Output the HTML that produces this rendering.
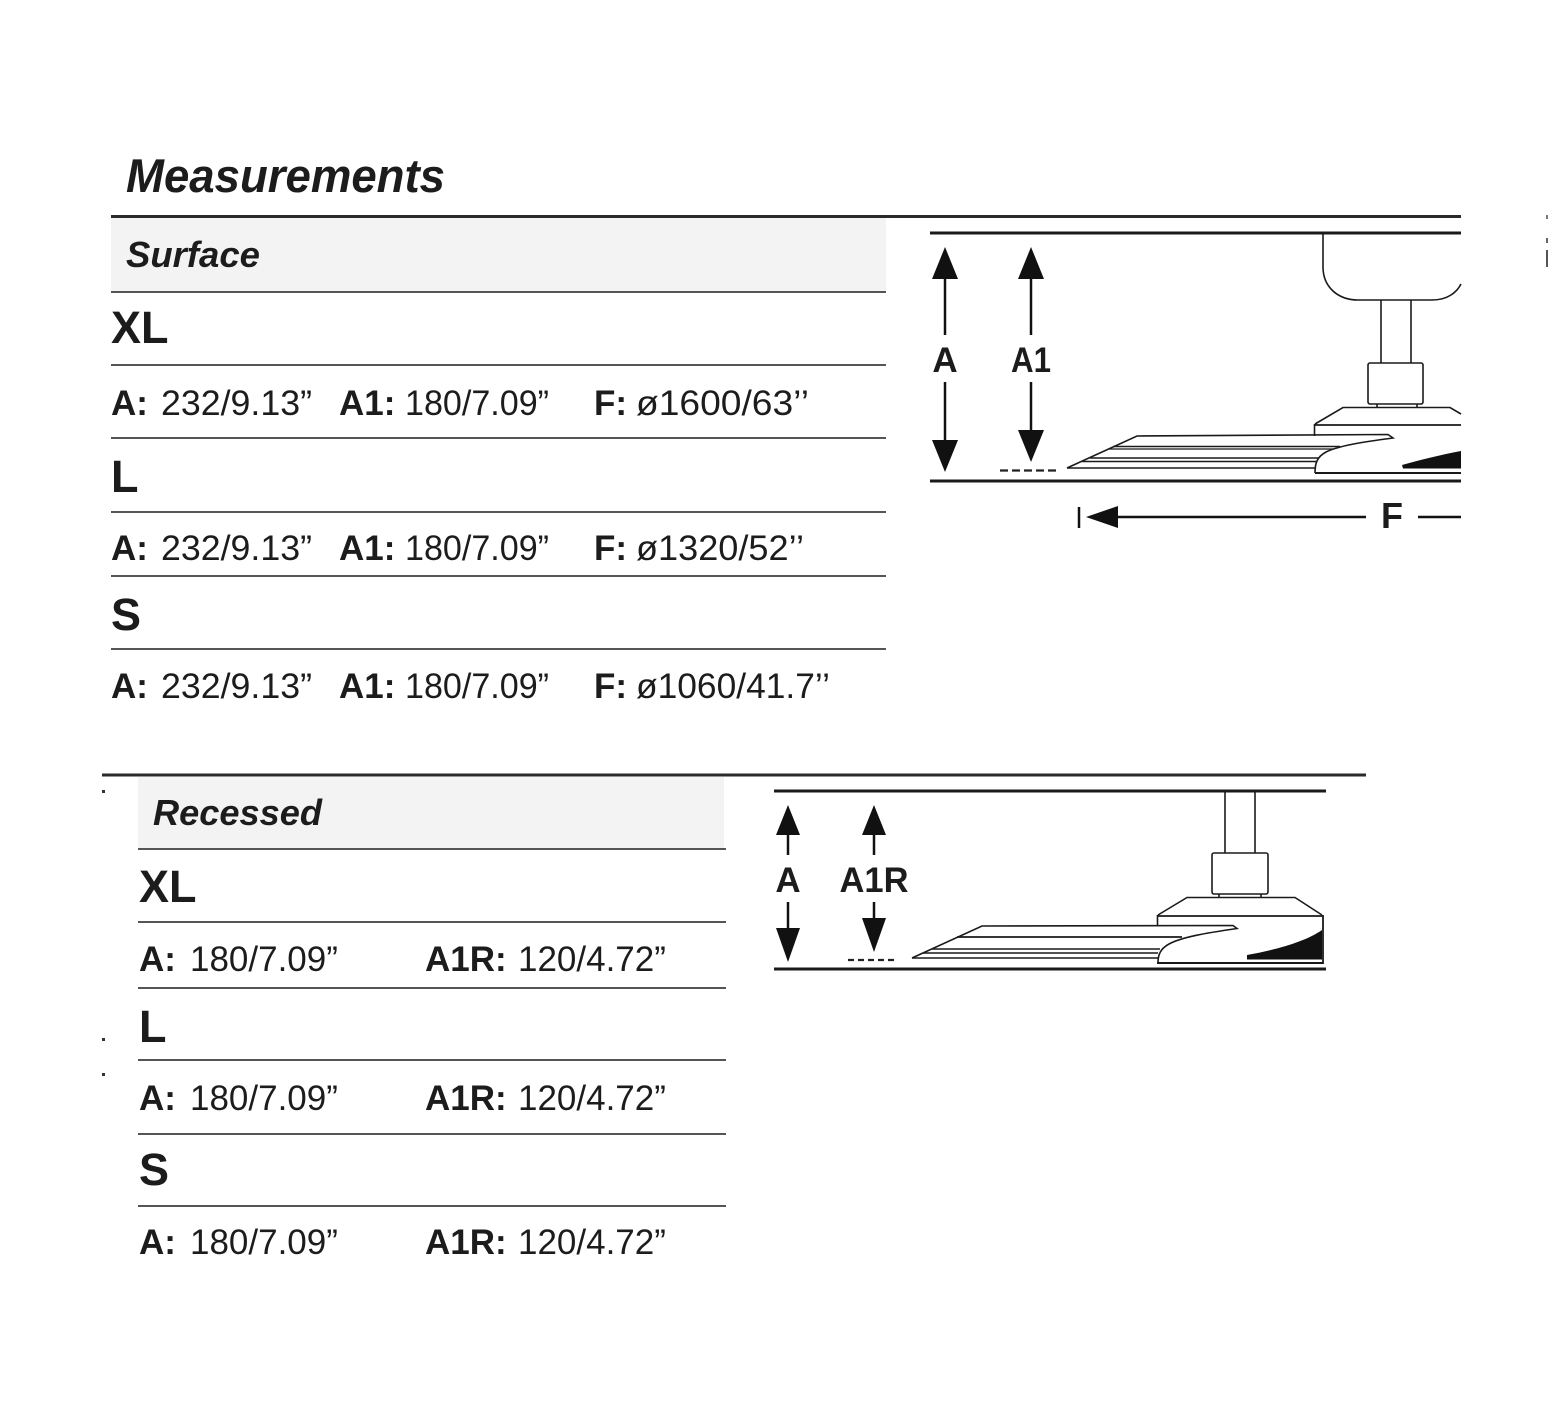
<!DOCTYPE html>
<html>
<head>
<meta charset="utf-8">
<style>
  html, body { margin: 0; padding: 0; background: #ffffff; }
  body { width: 1548px; height: 1410px; overflow: hidden; }
  svg { display: block; }
  text { font-family: "Liberation Sans", Arial, sans-serif; fill: #1c1c1c; }
  .h { font-weight: bold; font-style: italic; }
  .b { font-weight: bold; }
  .v { font-size: 35px; }
  .sz { font-size: 45px; font-weight: bold; }
</style>
</head>
<body>
<svg width="1548" height="1410" viewBox="0 0 1548 1410" xmlns="http://www.w3.org/2000/svg">
  <rect x="0" y="0" width="1548" height="1410" fill="#ffffff"/>

  <!-- ============ TOP SECTION: SURFACE ============ -->
  <text x="126" y="192" class="h" font-size="47" textLength="319" lengthAdjust="spacingAndGlyphs">Measurements</text>

  <rect x="111" y="218" width="775" height="73" fill="#f3f3f3"/>
  <line x1="111" y1="216.5" x2="1461" y2="216.5" stroke="#2a2a2a" stroke-width="3"/>
  <text x="126" y="267" class="h" font-size="36" textLength="134" lengthAdjust="spacingAndGlyphs">Surface</text>

  <g stroke="#555" stroke-width="2">
    <line x1="111" y1="292" x2="886" y2="292"/>
    <line x1="111" y1="365" x2="886" y2="365"/>
    <line x1="111" y1="438" x2="886" y2="438"/>
    <line x1="111" y1="512" x2="886" y2="512"/>
    <line x1="111" y1="576" x2="886" y2="576"/>
    <line x1="111" y1="649" x2="886" y2="649"/>
  </g>

  <text x="111" y="343" class="sz">XL</text>
  <text x="111" y="415" class="v"><tspan class="b">A:</tspan></text>
  <text x="161" y="415" class="v" textLength="151" lengthAdjust="spacingAndGlyphs">232/9.13”</text>
  <text x="339" y="415" class="v"><tspan class="b">A1:</tspan></text>
  <text x="405" y="415" class="v" textLength="144" lengthAdjust="spacingAndGlyphs">180/7.09”</text>
  <text x="594" y="415" class="v"><tspan class="b">F:</tspan></text>
  <text x="636" y="415" class="v" textLength="173" lengthAdjust="spacingAndGlyphs">ø1600/63’’</text>

  <text x="111" y="492" class="sz">L</text>
  <text x="111" y="560" class="v"><tspan class="b">A:</tspan></text>
  <text x="161" y="560" class="v" textLength="151" lengthAdjust="spacingAndGlyphs">232/9.13”</text>
  <text x="339" y="560" class="v"><tspan class="b">A1:</tspan></text>
  <text x="405" y="560" class="v" textLength="144" lengthAdjust="spacingAndGlyphs">180/7.09”</text>
  <text x="594" y="560" class="v"><tspan class="b">F:</tspan></text>
  <text x="636" y="560" class="v" textLength="168" lengthAdjust="spacingAndGlyphs">ø1320/52’’</text>

  <text x="111" y="630" class="sz">S</text>
  <text x="111" y="698" class="v"><tspan class="b">A:</tspan></text>
  <text x="161" y="698" class="v" textLength="151" lengthAdjust="spacingAndGlyphs">232/9.13”</text>
  <text x="339" y="698" class="v"><tspan class="b">A1:</tspan></text>
  <text x="405" y="698" class="v" textLength="144" lengthAdjust="spacingAndGlyphs">180/7.09”</text>
  <text x="594" y="698" class="v"><tspan class="b">F:</tspan></text>
  <text x="636" y="698" class="v" textLength="194" lengthAdjust="spacingAndGlyphs">ø1060/41.7’’</text>

  <!-- Top diagram -->
  <g stroke="#1a1a1a" fill="none">
    <line x1="930" y1="233" x2="1461" y2="233" stroke-width="3"/>
    <line x1="930" y1="481" x2="1461" y2="481" stroke-width="3"/>
    <path d="M1323 233 V267 C1323 287 1338 300 1358 300 H1432 C1448 300 1457 292 1461 284" stroke-width="1.6"/>
    <line x1="1381" y1="300" x2="1381" y2="363" stroke-width="1.6"/>
    <line x1="1411" y1="300" x2="1411" y2="363" stroke-width="1.6"/>
    <rect x="1368" y="363" width="55" height="41" rx="2" stroke-width="1.6"/>
    <line x1="1377" y1="404" x2="1377" y2="408" stroke-width="1.6"/>
    <line x1="1417" y1="404" x2="1417" y2="408" stroke-width="1.6"/>
    <path d="M1315 424 L1343 407.5 H1450 L1461 414" stroke-width="1.6"/>
    <line x1="1314" y1="425" x2="1461" y2="425" stroke-width="1.8"/>
    <line x1="1314.5" y1="424" x2="1314.5" y2="436" stroke-width="1.6"/>
    <line x1="1315" y1="473" x2="1461" y2="473" stroke-width="2"/>
    <path d="M1067 468 L1137 436 L1388 434.5 L1393 438 C1362 442 1338 446 1326 452 C1317 457 1315 463 1315 473" stroke-width="1.6"/>
    <line x1="1067" y1="468" x2="1315" y2="468" stroke-width="1.6"/>
    <line x1="1113" y1="446.5" x2="1340" y2="446.5" stroke-width="1.6"/>
    <line x1="1109" y1="449" x2="1334" y2="449" stroke-width="1.2"/>
    <line x1="1090" y1="458" x2="1319" y2="458" stroke-width="1.6"/>
    <line x1="1082" y1="461.5" x2="1316" y2="461.5" stroke-width="1.6"/>
  </g>
  <path d="M1402 465 C1420 460 1440 455 1461 451 V468.5 H1403 Z" fill="#111"/>

  <g fill="#111">
    <polygon points="945,247 932,279 958,279"/>
    <polygon points="932,440 958,440 945,472"/>
    <polygon points="1031,247 1018,279 1044,279"/>
    <polygon points="1018,430 1044,430 1031,462"/>
    <polygon points="1086,517 1118,506 1118,528"/>
  </g>
  <g stroke="#111" stroke-width="2.5">
    <line x1="945" y1="278" x2="945" y2="335"/>
    <line x1="945" y1="382" x2="945" y2="441"/>
    <line x1="1031" y1="278" x2="1031" y2="335"/>
    <line x1="1031" y1="382" x2="1031" y2="431"/>
    <line x1="1079" y1="507" x2="1079" y2="528"/>
    <line x1="1117" y1="517" x2="1366" y2="517"/>
    <line x1="1418" y1="517" x2="1461" y2="517"/>
  </g>
  <line x1="1000" y1="470.5" x2="1056" y2="470.5" stroke="#222" stroke-width="2.2" stroke-dasharray="8,4"/>
  <text x="945" y="372" class="b" font-size="35" text-anchor="middle">A</text>
  <text x="1031" y="372" class="b" font-size="35" text-anchor="middle" textLength="40" lengthAdjust="spacingAndGlyphs">A1</text>
  <text x="1381" y="528" class="b" font-size="36">F</text>

  <rect x="1546" y="215" width="2" height="4" fill="#777"/>
  <rect x="1546" y="238" width="2" height="5" fill="#666"/>
  <rect x="1546" y="250" width="2" height="17" fill="#555"/>

  <!-- ============ BOTTOM SECTION: RECESSED ============ -->
  <line x1="102" y1="775" x2="1366" y2="775" stroke="#2a2a2a" stroke-width="3"/>
  <rect x="138" y="777" width="586" height="71" fill="#f3f3f3"/>
  <text x="153" y="825" class="h" font-size="36" textLength="169" lengthAdjust="spacingAndGlyphs">Recessed</text>

  <g stroke="#555" stroke-width="2">
    <line x1="138" y1="849" x2="726" y2="849"/>
    <line x1="138" y1="922" x2="726" y2="922"/>
    <line x1="138" y1="988" x2="726" y2="988"/>
    <line x1="138" y1="1060" x2="726" y2="1060"/>
    <line x1="138" y1="1134" x2="726" y2="1134"/>
    <line x1="138" y1="1206" x2="726" y2="1206"/>
  </g>

  <text x="139" y="902" class="sz">XL</text>
  <text x="139" y="971" class="v"><tspan class="b">A:</tspan></text>
  <text x="190" y="971" class="v">180/7.09”</text>
  <text x="425" y="971" class="v"><tspan class="b">A1R:</tspan></text>
  <text x="518" y="971" class="v">120/4.72”</text>

  <text x="139" y="1042" class="sz">L</text>
  <text x="139" y="1110" class="v"><tspan class="b">A:</tspan></text>
  <text x="190" y="1110" class="v">180/7.09”</text>
  <text x="425" y="1110" class="v"><tspan class="b">A1R:</tspan></text>
  <text x="518" y="1110" class="v">120/4.72”</text>

  <text x="139" y="1185" class="sz">S</text>
  <text x="139" y="1254" class="v"><tspan class="b">A:</tspan></text>
  <text x="190" y="1254" class="v">180/7.09”</text>
  <text x="425" y="1254" class="v"><tspan class="b">A1R:</tspan></text>
  <text x="518" y="1254" class="v">120/4.72”</text>

  <rect x="102" y="790" width="3" height="3" fill="#333"/>
  <rect x="102" y="1038" width="3" height="3" fill="#333"/>
  <rect x="102" y="1073" width="3" height="3" fill="#333"/>

  <!-- Bottom diagram -->
  <g stroke="#1a1a1a" fill="none">
    <line x1="774" y1="791" x2="1326" y2="791" stroke-width="3"/>
    <line x1="774" y1="969" x2="1326" y2="969" stroke-width="3"/>
    <line x1="1225" y1="791" x2="1225" y2="853" stroke-width="1.6"/>
    <line x1="1255" y1="791" x2="1255" y2="853" stroke-width="1.6"/>
    <rect x="1212" y="853" width="56" height="41" rx="2" stroke-width="1.6"/>
    <line x1="1219" y1="894" x2="1219" y2="897" stroke-width="1.6"/>
    <line x1="1261" y1="894" x2="1261" y2="897" stroke-width="1.6"/>
    <path d="M1158 915 L1187 897.5 H1295 L1322 915" stroke-width="1.6"/>
    <line x1="1157" y1="916" x2="1323" y2="916" stroke-width="1.8"/>
    <line x1="1323" y1="915" x2="1323" y2="964" stroke-width="1.8"/>
    <line x1="1157.5" y1="915" x2="1157.5" y2="926" stroke-width="1.6"/>
    <line x1="1157" y1="963" x2="1323" y2="963" stroke-width="2"/>
    <path d="M912 958 L982 926 L1233 925.5 L1237 928.5 C1206 933 1182 937 1169 944 C1160 949 1158 955 1158 963" stroke-width="1.6"/>
    <line x1="912" y1="958" x2="1158" y2="958" stroke-width="1.6"/>
    <line x1="957" y1="937" x2="1182" y2="937" stroke-width="1.8"/>
    <line x1="932" y1="949" x2="1160" y2="949" stroke-width="1.5"/>
    <line x1="923" y1="953" x2="1158" y2="953" stroke-width="1.5"/>
  </g>
  <path d="M1247 955 C1275 950 1305 942 1322 930 V959.5 H1247 Z" fill="#111"/>

  <g fill="#111">
    <polygon points="788,805 776,835 800,835"/>
    <polygon points="776,928 800,928 788,962"/>
    <polygon points="874,805 862,835 886,835"/>
    <polygon points="862,918 886,918 874,952"/>
  </g>
  <g stroke="#111" stroke-width="2.5">
    <line x1="788" y1="834" x2="788" y2="855"/>
    <line x1="788" y1="902" x2="788" y2="929"/>
    <line x1="874" y1="834" x2="874" y2="855"/>
    <line x1="874" y1="902" x2="874" y2="919"/>
  </g>
  <line x1="848" y1="960" x2="894" y2="960" stroke="#222" stroke-width="2.2" stroke-dasharray="6,4"/>
  <text x="788" y="892" class="b" font-size="35" text-anchor="middle">A</text>
  <text x="874" y="892" class="b" font-size="35" text-anchor="middle" textLength="69" lengthAdjust="spacingAndGlyphs">A1R</text>
</svg>
</body>
</html>
